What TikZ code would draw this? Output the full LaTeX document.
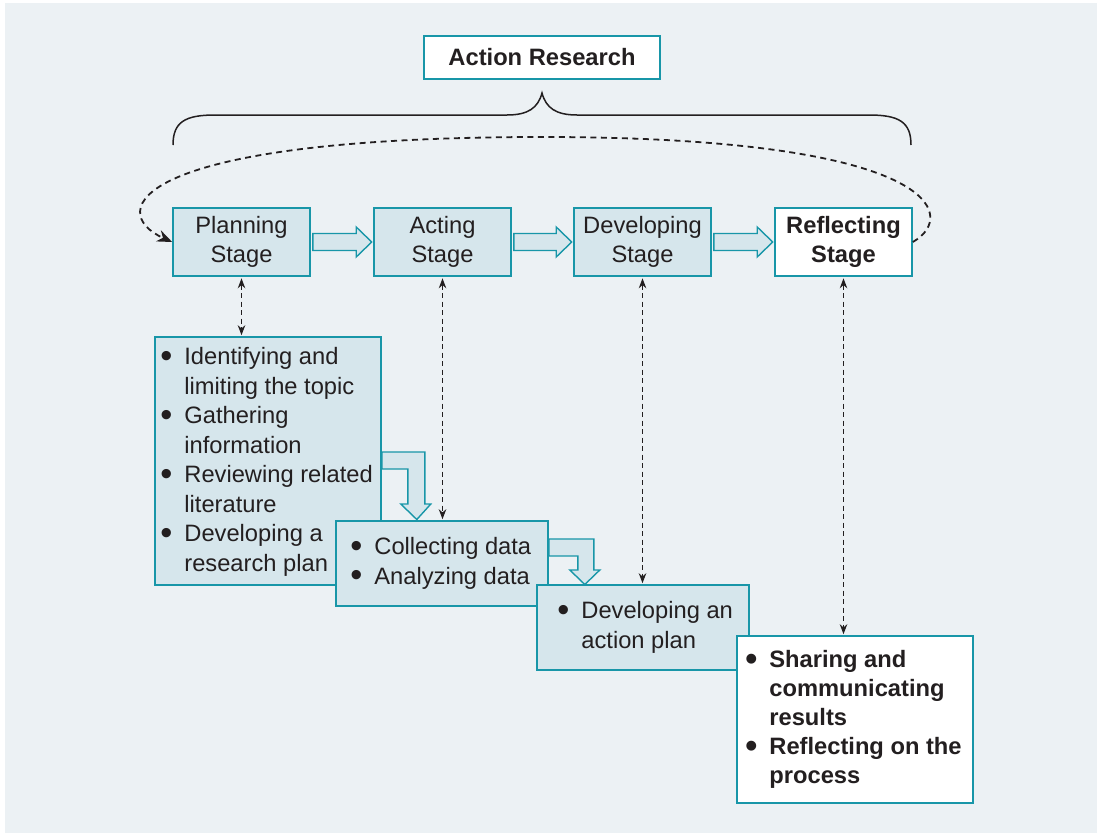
\documentclass[tikz,border=0pt]{standalone}
\usepackage{graphicx}
\usepackage{fontspec}
\setmainfont{Liberation Sans}
\usetikzlibrary{arrows.meta,calc}
\definecolor{bgc}{RGB}{236,241,244}
\definecolor{boxc}{RGB}{214,230,236}
\definecolor{tealc}{RGB}{24,150,168}
\definecolor{txtc}{RGB}{35,31,32}
\newcommand\bl{\strut\makebox[24pt][l]{\raisebox{-2.8pt}{\scalebox{1.45}{\textbullet}}}}
\newcommand\nb{\strut\makebox[24pt][l]{}}
\begin{document}
\begin{tikzpicture}[x=1pt,y=-1pt,
  every node/.style={text=txtc},
  fnt/.style={font=\fontsize{23.7}{29.5}\selectfont},
  stagebox/.style={draw=tealc,line width=1.6pt,fill=boxc,minimum width=137pt,minimum height=68pt,inner sep=0pt,align=center,fnt},
  listbox/.style={draw=tealc,line width=1.6pt,fill=boxc,inner sep=0pt},
  ltext/.style={anchor=west,inner sep=0pt,align=left,fnt},
  blk/.style={fill=boxc,draw=tealc,line width=1.4pt,line join=miter},
  dv/.style={draw=txtc,line width=1.2pt,dash pattern=on 5pt off 3.5pt,{Stealth[length=10pt,width=7.5pt]}-{Stealth[length=10pt,width=7.5pt]},shorten <=1.5pt,shorten >=1pt},
  topdash/.style={draw=txtc,line width=1.8pt,dash pattern=on 6pt off 4.5pt,-{Stealth[length=15pt,width=12pt]}}
]
\useasboundingbox (0,0) rectangle (1097,833);
\fill[bgc] (5,3) rectangle (1097,833);

% title and brace
\node[draw=tealc,line width=1.6pt,fill=white,minimum width=236pt,minimum height=43pt,inner sep=0pt,font=\fontsize{23.7}{29.5}\selectfont\bfseries] (AR) at (542,57.5) {Action Research};
\draw[draw=txtc,line width=1.5pt] (173,145) .. controls (173,122) and (185,115) .. (215,115) -- (507,115) .. controls (528,115) and (538,108) .. (542,93) .. controls (546,108) and (556,115) .. (577,115) -- (869,115) .. controls (899,115) and (911,122) .. (911,145);

% stages
\node[stagebox] (P) at (241.5,242) {Planning\\Stage};
\node[stagebox] (A) at (442.5,242) {Acting\\Stage};
\node[stagebox] (D) at (642.5,242) {Developing\\Stage};
\node[stagebox,fill=white,font=\fontsize{23.7}{29.5}\selectfont\bfseries] (R) at (843.5,242) {Reflecting\\Stage};

\foreach \a/\b in {P/A,A/D,D/R}{
  \draw[blk] ($(\a.east)+(2,-8.5)$) -- ($(\b.west)+(-17,-8.5)$) -- ($(\b.west)+(-17,-15)$) -- ($(\b.west)+(-1.5,0)$) -- ($(\b.west)+(-17,15)$) -- ($(\b.west)+(-17,8.5)$) -- ($(\a.east)+(2,8.5)$) -- cycle;
}

% cycle arrow
\draw[topdash] (R.east) .. controls (960,215) and (935,137) .. (542,137) .. controls (130,137) and (105,212) .. (P.west);

% lists
\node[listbox,minimum width=226pt,minimum height=248pt] (L1) at (268,461) {};
\node[ltext,anchor=north west] (L1a) at ($(L1.north west)+(6,7.5)$) {\bl Identifying and\\ \nb limiting the topic\\ \bl Gathering\\ \nb information\\ \bl Reviewing related\\ \nb literature};
\node[ltext,anchor=north west] (L1b) at (L1a.south west) {\bl Developing a\\ \nb research plan};

\draw[blk] ($(L1.east)+(0,-9)$) -- ++(43,0) -- ++(0,52) -- ++(6,0) -- ++(-14,15.5) -- ++(-16,-15.5) -- ++(7,0) -- ++(0,-35) -- ++(-26,0) -- cycle;

\node[listbox,minimum width=212pt,minimum height=85pt] (L2) at (442,563.5) {};
\node[ltext] (L2t) at ($(L2.west)+(15,0)$) {\bl Collecting data\\ \bl Analyzing data};

\draw[blk] ($(L2.east)+(0,-24.5)$) -- ++(45,0) -- ++(0,31) -- ++(6,0) -- ++(-15,14.5) -- ++(-15,-14.5) -- ++(8,0) -- ++(0,-14) -- ++(-29,0) -- cycle;

\node[listbox,minimum width=212pt,minimum height=85pt] (L3) at (643,627.5) {};
\node[ltext] (L3t) at ($(L3.west)+(21,0)$) {\bl Developing an\\ \nb action plan};

\node[listbox,fill=white,minimum width=236pt,minimum height=167pt] (L4) at (855,719.5) {};
\node[ltext,font=\fontsize{23.7}{29}\selectfont\bfseries] (L4t) at ($(L4.west)+(9,0)$) {\bl Sharing and\\ \nb communicating\\ \nb results\\ \bl Reflecting on the\\ \nb process};

% vertical links
\draw[dv] (P.south) -- (P.south |- L1.north);
\draw[dv] (A.south) -- (A.south |- L2.north);
\draw[dv] (D.south) -- (D.south |- L3.north);
\draw[dv] (R.south) -- (R.south |- L4.north);
\end{tikzpicture}
\end{document}
